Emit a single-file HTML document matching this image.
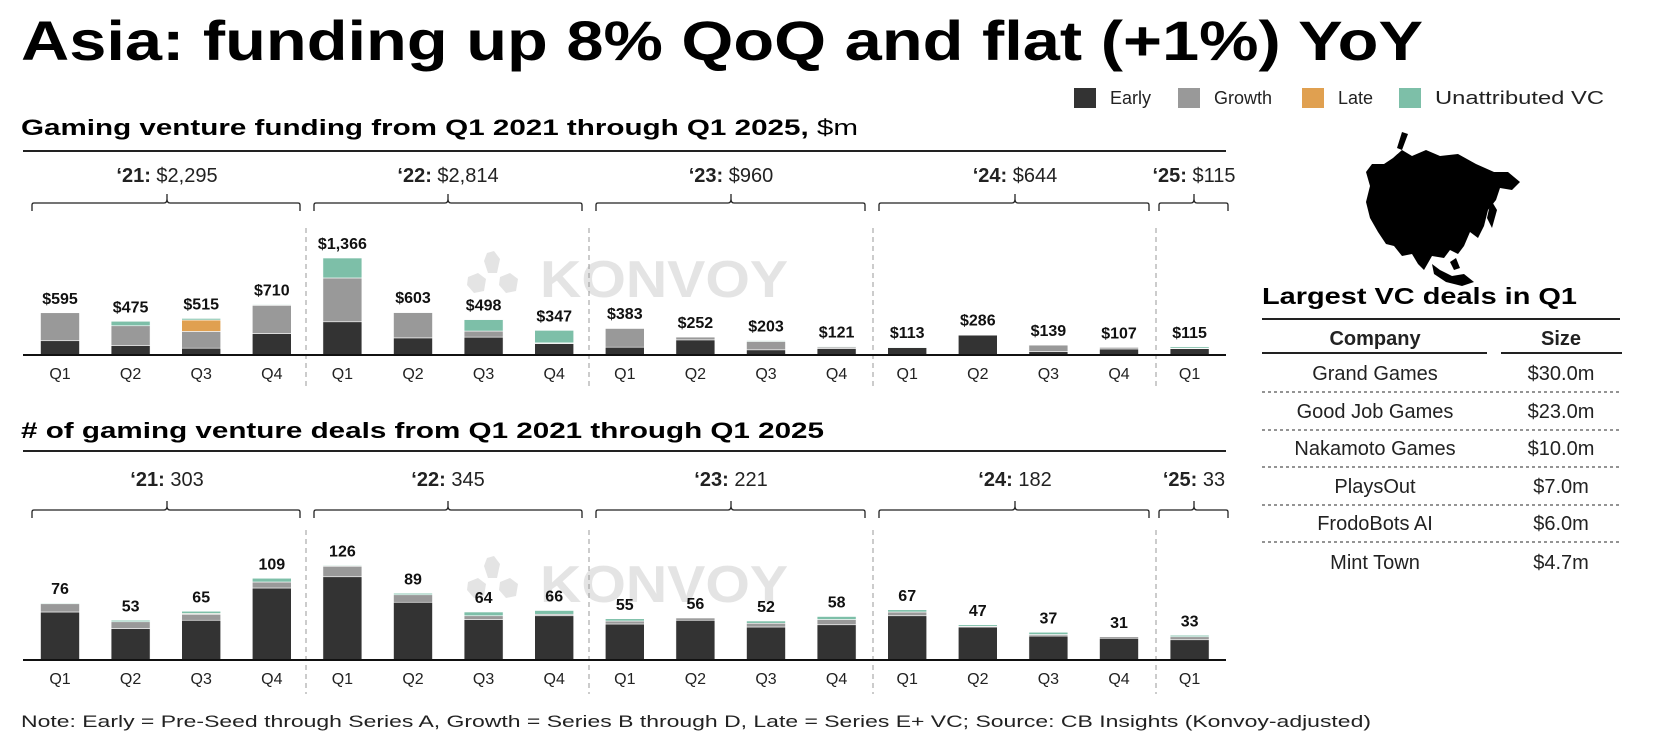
<!DOCTYPE html>
<html><head><meta charset="utf-8"><style>
html,body{margin:0;padding:0;background:#fff;}
svg{display:block;font-family:"Liberation Sans",sans-serif;}
</style></head><body>
<svg id="chart" width="1671" height="740" viewBox="0 0 1671 740" xmlns="http://www.w3.org/2000/svg">
<text x="21" y="60" font-size="56" font-weight="bold" textLength="1402" lengthAdjust="spacingAndGlyphs">Asia: funding up 8% QoQ and flat (+1%) YoY</text>
<g font-size="18" fill="#222">
<g><rect x="1074" y="88" width="22" height="20" fill="#333"/><text x="1110" y="104">Early</text></g>
<g><rect x="1178" y="88" width="22" height="20" fill="#999"/><text x="1214" y="104">Growth</text></g>
<g><rect x="1302" y="88" width="22" height="20" fill="#e0a050"/><text x="1338" y="104">Late</text></g>
<g><rect x="1399" y="88" width="22" height="20" fill="#7dbfa8"/><text x="1435" y="104" textLength="169" lengthAdjust="spacingAndGlyphs">Unattributed VC</text></g>
</g>
<text x="21" y="135" font-size="22" font-weight="bold" textLength="837" lengthAdjust="spacingAndGlyphs">Gaming venture funding from Q1 2021 through Q1 2025, <tspan font-weight="normal">$m</tspan></text>
<text x="21" y="438" font-size="22" font-weight="bold" textLength="803" lengthAdjust="spacingAndGlyphs"># of gaming venture deals from Q1 2021 through Q1 2025</text>
<g id="plots"></g>
<g>
<path d="M1393 158 L1402 150 L1412 156 L1426 150 L1440 156 L1458 154 L1476 164 L1494 172 L1508 172 L1520 182 L1512 190 L1500 188 L1496 200 L1488 210 L1484 226 L1478 238 L1470 232 L1464 246 L1458 254 L1450 250 L1444 258 L1432 256 L1424 270 L1418 264 L1412 254 L1402 256 L1394 246 L1386 244 L1378 232 L1370 218 L1366 202 L1370 186 L1366 172 L1372 164 L1384 164 Z" fill="#000"/>
<path d="M1432 264 L1440 270 L1452 276 L1464 274 L1474 282 L1462 286 L1446 282 L1434 274 Z" fill="#000"/>
<path d="M1450 262 L1456 258 L1460 268 L1454 270 Z" fill="#000"/>
<path d="M1491 200 L1497 210 L1492 228 L1487 218 Z" fill="#000"/>
<path d="M1397 148 L1402 132 L1408 134 L1402 150 Z" fill="#000"/>
</g>
<text x="1262" y="304" font-size="23" font-weight="bold" textLength="315" lengthAdjust="spacingAndGlyphs">Largest VC deals in Q1</text>
<line x1="1262" y1="319" x2="1620" y2="319" stroke="#222" stroke-width="2"/>
<g font-size="20" text-anchor="middle" fill="#222">
<text x="1375" y="345" font-weight="bold">Company</text>
<text x="1561" y="345" font-weight="bold">Size</text>
<line x1="1262" y1="353" x2="1487" y2="353" stroke="#222" stroke-width="2"/>
<line x1="1501" y1="353" x2="1622" y2="353" stroke="#222" stroke-width="2"/>
<g id="rows"></g>
</g>
<text x="21" y="727" font-size="17" fill="#222" textLength="1350" lengthAdjust="spacingAndGlyphs">Note: Early = Pre-Seed through Series A, Growth = Series B through D, Late = Series E+ VC; Source: CB Insights (Konvoy-adjusted)</text>
</svg>
<script>
const quarters = ["Q1","Q2","Q3","Q4","Q1","Q2","Q3","Q4","Q1","Q2","Q3","Q4","Q1","Q2","Q3","Q4","Q1"];
const fundTotals = [595,475,515,710,1366,603,498,347,383,252,203,121,113,286,139,107,115];
const fundEarly  = [201,131,96,302,468,241,252,161,110,213,73,92,104,280,49,85,90];
const fundGrowth = [394,281,236,398,617,357,85,10,265,39,118,20,0,6,90,22,5];
const fundLate   = [0,0,161,0,0,0,0,0,0,0,0,0,0,0,0,0,0];
const fundUnatt  = [0,63,22,10,281,5,161,176,8,0,12,9,9,0,0,0,20];
const dealTotals = [76,53,65,109,126,89,64,66,55,56,52,58,67,47,37,31,33];
const dealEarly  = [64,42,53,96,111,77,54,59,48,53,44,47,59,44,32,29,27];
const dealGrowth = [11,9,8,8,14,10,5,2,4,3,5,7,5,1,2,2,4];
const dealLate   = [0,0,1,0,0,0,0,0,0,0,0,0,0,0,0,0,0];
const dealUnatt  = [1,2,3,5,1,2,5,5,3,0,3,4,3,2,3,0,2];
const yearLabels = ["‘21:","‘22:","‘23:","‘24:","‘25:"];
const fundYear = ["$2,295","$2,814","$960","$644","$115"];
const dealYear = ["303","345","221","182","33"];
const companies = ["Grand Games","Good Job Games","Nakamoto Games","PlaysOut","FrodoBots AI","Mint Town"];
const sizes = ["$30.0m","$23.0m","$10.0m","$7.0m","$6.0m","$4.7m"];

const NS="http://www.w3.org/2000/svg";
function mk(tag,attrs,parent,txt){const e=document.createElementNS(NS,tag);for(const k in attrs)e.setAttribute(k,attrs[k]);if(txt!==undefined)e.textContent=txt;parent.appendChild(e);return e;}
const plots=document.getElementById('plots');
const xC=i=>60+70.6*i;
const BW=39;
const colors=["#333333","#999999","#e0a050","#7dbfa8"];

function drawPanel(cfg){
  const g=mk('g',{},plots);
  
  
  const y=v=>cfg.base-v*cfg.scale;
  mk('line',{x1:23,y1:cfg.rule,x2:1226,y2:cfg.rule,stroke:'#222','stroke-width':2},g);
  const wm=mk('g',{fill:'#e4e4e4'},g);
  
  
  mk('path',{d:`M487 ${cfg.wm-22} l7 -2 l6 8 l-3 14 l-9 0 l-4 -12 z`},wm);
  mk('path',{d:`M468 ${cfg.wm+2} l10 -4 l8 6 l-2 12 l-10 2 l-7 -8 z`},wm);
  mk('path',{d:`M500 ${cfg.wm+2} l10 -4 l8 6 l-2 12 l-10 2 l-7 -8 z`},wm);
  mk('text',{x:540,y:cfg.wm+22,'font-size':52,'font-weight':'bold',textLength:248,lengthAdjust:'spacingAndGlyphs'},wm,'KONVOY');
  [306,589,873,1156].forEach(x=>{const l=mk('line',{x1:x,y1:cfg.sepTop,x2:x,y2:cfg.sepBot,stroke:'#999','stroke-width':1,'stroke-dasharray':'5,4'},g);
    
    });
  const bx=[[32,300],[314,582],[596,865],[879,1149],[1159,1228]];
  const bc=[167,448,731,1015,1194];
  bx.forEach((b,k)=>{
    const yb=cfg.brace;
    const p=mk('path',{d:`M${b[0]} ${yb+8} v-6 q0 -2 2 -2 H${bc[k]-3} q3 0 3 -4 v-5 v5 q0 4 3 4 H${b[1]-2} q2 0 2 2 v6`,fill:'none',stroke:'#222','stroke-width':1.3},g);
    
    
    const t=mk('text',{x:bc[k],y:cfg.yearY,'font-size':20,'text-anchor':'middle',fill:'#222'},g);
    
    
    mk('tspan',{'font-weight':'bold'},t,yearLabels[k]+' ');
    mk('tspan',{},t,cfg.year[k]);
  });
  cfg.totals.forEach((tot,i)=>{
    let acc=0;
    [cfg.e,cfg.g,cfg.l,cfg.u].forEach((arr,s)=>{
      const v=arr[i]; if(!v) return;
      const r=mk('rect',{x:xC(i)-BW/2,y:y(acc+v),width:BW,height:v*cfg.scale,fill:colors[s],stroke:'#fff','stroke-width':0.6},g);
      
      
      acc+=v;
    });
    const lab=mk('text',{x:xC(i),y:y(tot)-9,'font-size':16,'font-weight':'bold','text-anchor':'middle',fill:'#111'},g,cfg.fmt(tot));
    
    
    const q=mk('text',{x:xC(i),y:cfg.base+24,'font-size':16,'text-anchor':'middle',fill:'#222'},g,quarters[i]);
    
    
  });
  const ax=mk('line',{x1:23,y1:cfg.base,x2:1226,y2:cfg.base,stroke:'#111','stroke-width':2},g);
  
  
}
drawPanel({name:'funding-panel',base:355,scale:0.071,rule:151,brace:203,yearY:182,sepTop:228,sepBot:390,wm:275,
  totals:fundTotals,e:fundEarly,g:fundGrowth,l:fundLate,u:fundUnatt,year:fundYear,fmt:v=>'$'+v.toLocaleString('en-US')});
drawPanel({name:'deals-panel',base:660,scale:0.75,rule:451,brace:510,yearY:486,sepTop:530,sepBot:694,wm:580,
  totals:dealTotals,e:dealEarly,g:dealGrowth,l:dealLate,u:dealUnatt,year:dealYear,fmt:v=>String(v)});

const rows=document.getElementById('rows');
const rowY=[373,411,448,486,523,562];
companies.forEach((c,i)=>{
  const t1=mk('text',{x:1375,y:rowY[i]+7},rows,c);
  
  
  const t2=mk('text',{x:1561,y:rowY[i]+7},rows,sizes[i]);
  
  
  if(i<companies.length-1){
    const l=mk('line',{x1:1262,y1:rowY[i]+19,x2:1620,y2:rowY[i]+19,stroke:'#555','stroke-width':1.2,'stroke-dasharray':'3,3'},rows);
    
    
  }
});
</script>
</body></html>
